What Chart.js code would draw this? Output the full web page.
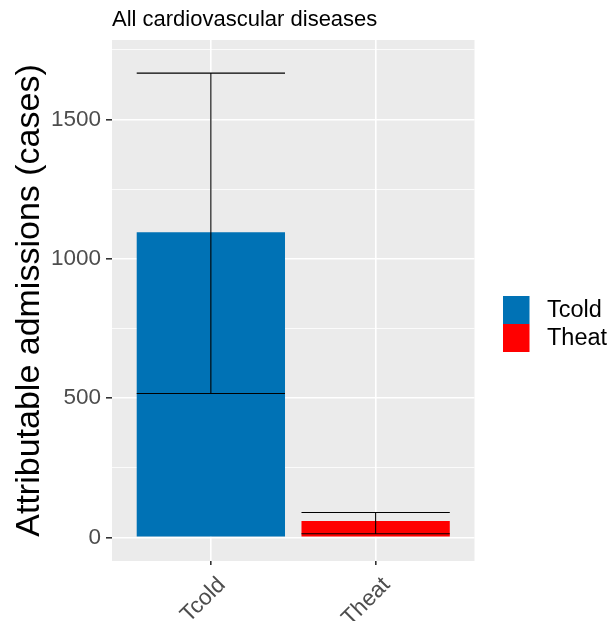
<!DOCTYPE html>
<html>
<head>
<meta charset="utf-8">
<script src="https://cdn.jsdelivr.net/npm/chart.js@4"></script>
<style>html,body{margin:0;padding:0;background:#fff;}canvas{display:block;}</style>
</head>
<body>
<canvas id="c" width="609" height="621"></canvas>
<script>
const categories = ['Tcold', 'Theat'];
const values = [1095, 59];
const lower = [516, 13];
const upper = [1666, 89];
const colors = ['#0072B5', '#FF0000'];
const yMajor = [0, 500, 1000, 1500];
const yMinor = [250, 750, 1250, 1750];
const titleText = 'All cardiovascular diseases';
const yTitle = 'Attributable admissions (cases)';

const FONT = "'Liberation Sans', Arial, sans-serif";

const bgPlugin = {
  id: 'panelBg',
  beforeDraw(chart) {
    const {ctx, chartArea: a} = chart;
    ctx.save();
    ctx.fillStyle = '#EBEBEB';
    ctx.fillRect(a.left, a.top, a.right - a.left, a.bottom - a.top);
    ctx.restore();
  }
};

const errPlugin = {
  id: 'errBars',
  afterDatasetsDraw(chart) {
    const {ctx} = chart;
    const xs = chart.scales.x, ys = chart.scales.y;
    ctx.save();
    ctx.strokeStyle = '#000';
    ctx.lineWidth = 1.1;
    categories.forEach((c, i) => {
      const xc = xs.getPixelForValue(i + 1);
      const xl = xs.getPixelForValue(i + 1 - 0.45);
      const xr = xs.getPixelForValue(i + 1 + 0.45);
      const yu = ys.getPixelForValue(upper[i]);
      const yl = ys.getPixelForValue(lower[i]);
      ctx.beginPath();
      ctx.moveTo(xc, yu); ctx.lineTo(xc, yl);
      ctx.moveTo(xl, yu); ctx.lineTo(xr, yu);
      ctx.moveTo(xl, yl); ctx.lineTo(xr, yl);
      ctx.stroke();
    });
    ctx.restore();
  }
};

const extrasPlugin = {
  id: 'extras',
  afterDraw(chart) {
    const {ctx, chartArea: a} = chart;
    ctx.save();
    ctx.fillStyle = '#000';
    ctx.font = '22px ' + FONT;
    ctx.textBaseline = 'alphabetic';
    ctx.textAlign = 'left';
    ctx.fillText(titleText, a.left, 26);
    // legend
    categories.forEach((c, i) => {
      ctx.fillStyle = colors[i];
      ctx.fillRect(503, 296 + 28 * i, 26.5, 28);
      ctx.fillStyle = '#000';
      ctx.font = '23.5px ' + FONT;
      ctx.textBaseline = 'middle';
      ctx.fillText(c, 547, 311 + 28 * i);
    });
    ctx.restore();
  }
};

new Chart(document.getElementById('c'), {
  type: 'bar',
  data: {
    datasets: [{
      data: categories.map((c, i) => ({x: i + 1, y: values[i]})),
      backgroundColor: colors,
      borderWidth: 0,
      barPercentage: 0.9,
      categoryPercentage: 1.0
    }]
  },
  options: {
    responsive: false,
    animation: false,
    layout: {padding: {left: 0, top: 40, right: 134.5, bottom: 0}},
    plugins: {legend: {display: false}, tooltip: {enabled: false}, title: {display: false}},
    scales: {
      x: {
        type: 'linear',
        offset: false,
        min: 0.4, max: 2.6,
        afterBuildTicks(scale) { scale.ticks = categories.map((c, i) => ({value: i + 1})); },
        afterFit(scale) { scale.height = 60; },
        border: {display: false},
        grid: {offset: false, color: '#FFFFFF', lineWidth: 1.6, tickLength: 4, tickColor: '#333333'},
        ticks: {
          autoSkip: false,
          minRotation: 45, maxRotation: 45,
          padding: 7,
          labelOffset: 11,
          color: '#4D4D4D',
          font: {family: FONT, size: 22.5},
          callback: (v) => categories[Math.round(v) - 1]
        }
      },
      y: {
        type: 'linear',
        min: -85, max: 1785,
        afterBuildTicks(scale) {
          scale.ticks = yMajor.concat(yMinor).sort((a, b) => a - b).map(v => ({value: v}));
        },
        afterFit(scale) { scale.width = 112; },
        border: {display: false},
        grid: {
          color: '#FFFFFF',
          lineWidth: (ctx) => (ctx.tick && yMajor.includes(ctx.tick.value)) ? 1.6 : 0.8,
          tickLength: 6,
          tickColor: (ctx) => (ctx.tick && yMajor.includes(ctx.tick.value)) ? '#333333' : 'rgba(0,0,0,0)'
        },
        ticks: {
          autoSkip: false,
          padding: 5,
          color: '#4D4D4D',
          font: {family: FONT, size: 22.5},
          callback: (v) => yMajor.includes(v) ? String(v) : ''
        },
        title: {
          display: true,
          text: yTitle,
          color: '#000',
          padding: {top: 9, bottom: 0},
          font: {family: FONT, size: 34}
        }
      }
    }
  },
  plugins: [bgPlugin, errPlugin, extrasPlugin]
});
</script>
</body>
</html>
